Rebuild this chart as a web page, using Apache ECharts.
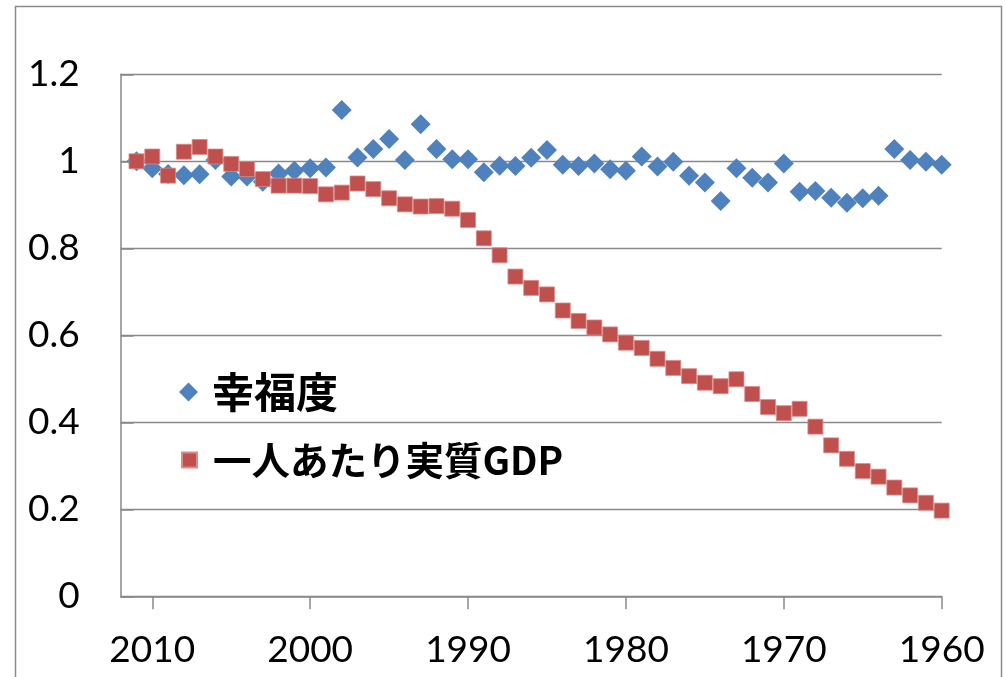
<!DOCTYPE html>
<html>
<head>
<meta charset="utf-8">
<script src="https://cdn.jsdelivr.net/npm/echarts@6/dist/echarts.min.js"></script>
<style>
html,body{margin:0;padding:0;background:#fff;}
#chart{width:1006px;height:677px;}
</style>
</head>
<body>
<div id="chart"></div>
<script>
var years = [2011,2010,2009,2008,2007,2006,2005,2004,2003,2002,2001,2000,1999,1998,1997,1996,1995,1994,1993,1992,1991,1990,1989,1988,1987,1986,1985,1984,1983,1982,1981,1980,1979,1978,1977,1976,1975,1974,1973,1972,1971,1970,1969,1968,1967,1966,1965,1964,1963,1962,1961,1960];
var happiness = [1.000,0.984,0.971,0.968,0.970,1.003,0.965,0.965,0.953,0.972,0.978,0.984,0.986,1.118,1.009,1.028,1.051,1.003,1.085,1.028,1.005,1.005,0.975,0.990,0.989,1.008,1.026,0.992,0.989,0.995,0.982,0.978,1.011,0.988,0.999,0.967,0.951,0.909,0.984,0.962,0.951,0.995,0.930,0.932,0.916,0.905,0.915,0.921,1.028,1.003,0.999,0.992];
var gdpPerCapita = [1.000,1.011,0.967,1.022,1.033,1.011,0.994,0.982,0.959,0.944,0.944,0.943,0.924,0.928,0.949,0.936,0.915,0.901,0.896,0.897,0.891,0.865,0.823,0.784,0.735,0.709,0.694,0.657,0.633,0.618,0.602,0.583,0.571,0.546,0.525,0.506,0.491,0.483,0.499,0.465,0.435,0.421,0.431,0.390,0.347,0.316,0.288,0.275,0.250,0.232,0.215,0.197];
var xTickValues = [2010,2000,1990,1980,1970,1960];
var seriesNames = ['幸福度','一人あたり実質GDP'];

function pairs(xs, ys){ return xs.map(function(x,i){ return [x, ys[i]]; }); }

var axisGray = '#898989';
var labelFont = { fontFamily: 'Lato, "Liberation Sans", sans-serif', fontSize: 37, color: '#000' };
function legendText(size, padLeft){
  return { fontFamily: '"Noto Sans CJK JP", sans-serif', fontSize: size, fontWeight: 'bold', color: '#000', lineHeight: 46, padding: [0,0,0,padLeft] };
}

var chart = echarts.init(document.getElementById('chart'), null, {renderer:'canvas'});
chart.setOption({
  animation: false,
  backgroundColor: '#fff',
  grid: { left: 120.7, right: 64.3, top: 74.3, bottom: 80.7, containLabel: false },
  xAxis: {
    type: 'value', min: 1960, max: 2012, interval: 10, inverse: true,
    axisLine: { show: true, lineStyle: { color: axisGray, width: 1.5 } },
    axisTick: { show: true, inside: false, length: 13, customValues: xTickValues, lineStyle: { color: axisGray, width: 1.5 } },
    axisLabel: Object.assign({ margin: 35, customValues: xTickValues, formatter: function(v){ return String(v); } }, labelFont),
    splitLine: { show: false }
  },
  yAxis: {
    type: 'value', min: 0, max: 1.2, interval: 0.2,
    axisLine: { show: true, lineStyle: { color: axisGray, width: 1.5 } },
    axisTick: { show: true, inside: true, length: 13, lineStyle: { color: axisGray, width: 1.5 } },
    axisLabel: Object.assign({ margin: 41 }, labelFont),
    splitLine: { show: true, lineStyle: { color: axisGray, width: 1.3 } }
  },
  legend: [
    { data: [{ name: seriesNames[0], icon: 'diamond' }], orient: 'vertical', left: 179, top: 369, padding: 0,
      itemWidth: 19, itemHeight: 19, itemGap: 0, textStyle: legendText(42, 9) },
    { data: [{ name: seriesNames[1], icon: 'rect' }], orient: 'vertical', left: 181, top: 437, padding: 0,
      itemWidth: 15, itemHeight: 15, itemGap: 0, textStyle: legendText(38.5, 11) }
  ],
  graphic: [{
    type: 'rect', silent: true, z: -1,
    shape: { x: 15.5, y: 6.5, width: 986, height: 720 },
    style: { fill: 'none', stroke: '#8a8a8a', lineWidth: 1.5 }
  }],
  series: [
    { name: seriesNames[0], type: 'scatter', symbol: 'diamond', symbolSize: 20,
      itemStyle: { color: '#4F81BD', opacity: 1 }, data: pairs(years, happiness), z: 2 },
    { name: seriesNames[1], type: 'scatter', symbol: 'rect', symbolSize: 15,
      itemStyle: { color: '#C0504D', opacity: 1, borderColor: '#d98c8a', borderWidth: 0.8 }, data: pairs(years, gdpPerCapita), z: 3 }
  ]
});
</script>
</body>
</html>
